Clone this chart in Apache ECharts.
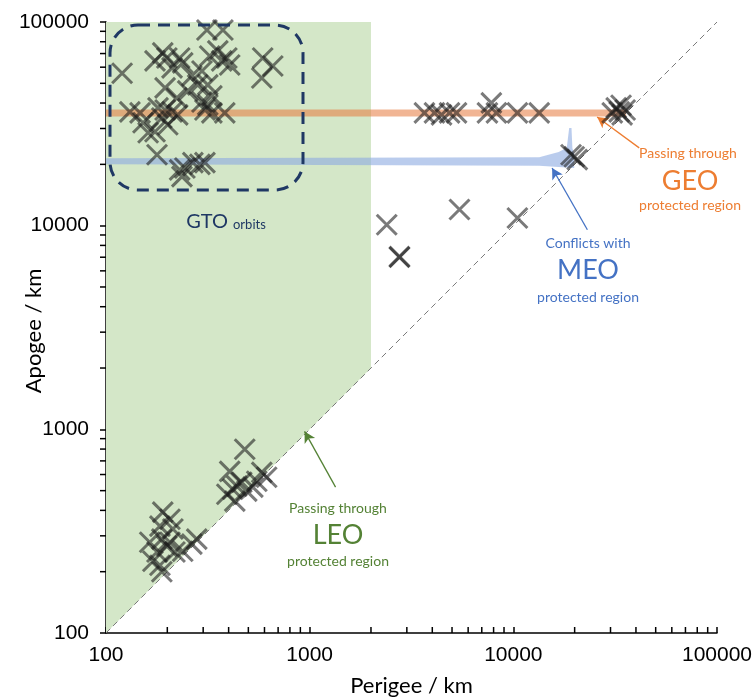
<!DOCTYPE html>
<html>
<head>
<meta charset="utf-8">
<script src="https://cdn.jsdelivr.net/npm/echarts@6/dist/echarts.min.js"></script>
<style>
  html, body { margin: 0; padding: 0; background: #fff; }
  #chart { width: 754px; height: 697px; }
</style>
</head>
<body>
<div id="chart"></div>
<script>
// [perigee km, apogee km]
const gtoOrbits = [
  [120, 56000], [174, 64400], [190, 70500], [199, 66600], [230, 66600], [238, 63000],
  [211, 59500], [264, 54400], [195, 47500], [252, 45900], [282, 49100], [223, 42400],
  [313, 91400], [375, 91400], [323, 68100], [354, 72100], [370, 64400], [392, 66600],
  [405, 61500], [588, 66600], [659, 60800], [582, 53100], [296, 57500], [316, 49100],
  [331, 43400], [296, 40500], [316, 39200], [306, 37000], [331, 35800], [383, 35800],
  [131, 36200], [147, 35800], [152, 32000], [161, 28600], [174, 28900], [180, 37900],
  [195, 37000], [188, 33800], [211, 36200], [225, 35000], [201, 31300], [178, 22300],
  [230, 18800], [244, 19200], [267, 20400], [289, 20000], [306, 20400], [236, 17400]
]
const geoOrbits = [
  [3660, 35800], [4100, 35800], [4440, 35000], [4860, 35800], [5260, 35800],
  [7460, 35800], [7800, 40100], [8260, 35800], [10470, 35800], [13400, 35800],
  [30600, 35800], [32000, 37900], [33100, 36200], [34200, 35000], [35400, 37000], [33800, 39000]
]
const meoOrbits = [[19900, 21800], [19200, 22300], [20600, 21100]]
const otherOrbits = [[2390, 10100], [2760, 7050], [2760, 7000], [5440, 12000], [10470, 10900]]
const leoOrbits = [
  [480, 798], [405, 622], [392, 480], [419, 508], [439, 526], [464, 550], [491, 497],
  [526, 520], [582, 615], [615, 582], [550, 556], [429, 444], [190, 392], [206, 362],
  [184, 335], [213, 324], [164, 279], [188, 289], [199, 267], [178, 250], [218, 250],
  [238, 252], [279, 289], [264, 273], [170, 225], [184, 215], [188, 200], [206, 279]
]

// shaded LEO-crossing region and protected bands
const leoRegion = [[100, 100], [2000, 2000], [2000, 100000], [100, 100000]]
const geoBand = [[100, 35786], [35786, 35786]]
const meoBand = [
  [100, 21400], [13400, 21700], [16700, 23000], [18300, 24100], [18800, 30200], [19300, 30200],
  [19500, 24000], [19900, 22500], [19900, 19200], [13400, 19700], [100, 20000]
]
const diagonal = [[100, 100], [100000, 100000]]
const minorTicks = [200, 300, 400, 500, 600, 700, 800, 900, 2000, 3000, 4000, 5000, 6000, 7000,
  8000, 9000, 20000, 30000, 40000, 50000, 60000, 70000, 80000, 90000]

const chart = echarts.init(document.getElementById('chart'))
const txtFont = 'Lato, "Open Sans", sans-serif'
const numFont = '"Liberation Sans", Arial, sans-serif'
const allOrbits = [].concat(gtoOrbits, geoOrbits, meoOrbits, otherOrbits, leoOrbits)

const polygonSeries = (pts, fill, z) => ({
  type: 'custom', coordinateSystem: 'cartesian2d', data: [[100, 100]], silent: true, z,
  renderItem: (params, api) => ({
    type: 'polygon',
    shape: { points: pts.map(p => api.coord(p)) },
    style: { fill }
  })
})

const arrow = (from, to, color) => ({
  type: 'scatter', data: [], silent: true, z: 6,
  markLine: {
    silent: true, symbol: ['none', 'arrow'], symbolSize: [9, 11],
    label: { show: false },
    lineStyle: { color, width: 1.3, type: 'solid' },
    data: [[{ coord: from }, { coord: to }]]
  }
})

const note = (x, y, text, color, size) => ({
  type: 'text', z: 10, x, y,
  style: { text, fill: color, font: size + 'px ' + txtFont, align: 'center', verticalAlign: 'middle' }
})

let option = {
  animation: false,
  grid: { left: 106, right: 37, top: 22, bottom: 64, outerBoundsMode: 'none' },
  xAxis: {
    type: 'log', min: 100, max: 100000,
    name: 'Perigee / km', nameLocation: 'middle', nameGap: 42,
    nameTextStyle: { fontFamily: txtFont, fontSize: 22, color: '#000' },
    axisLine: { lineStyle: { color: '#000', width: 1.5 } },
    axisTick: { inside: true, length: 6, lineStyle: { color: '#000', width: 1.5 } },
    axisLabel: { formatter: v => String(v), fontFamily: numFont, fontSize: 21, color: '#000', margin: 12 },
    splitLine: { show: false }
  },
  yAxis: {
    type: 'log', min: 100, max: 100000,
    axisLine: { lineStyle: { color: '#000', width: 1.5 } },
    axisTick: { length: 6, lineStyle: { color: '#000', width: 1.5 } },
    axisLabel: { formatter: v => String(v), fontFamily: numFont, fontSize: 21, color: '#000', margin: 17 },
    splitLine: { show: false }
  },
  series: [
    polygonSeries(leoRegion, '#d4e7c8', 1),
    polygonSeries(meoBand, 'rgba(140,170,225,0.6)', 2),
    {
      type: 'line', data: geoBand, symbol: 'none', silent: true, z: 2,
      lineStyle: { color: 'rgba(230,120,60,0.55)', width: 7 }
    },
    {
      type: 'line', data: diagonal, symbol: 'none', silent: true, z: 3,
      lineStyle: { color: '#7a7a7a', width: 1, type: [6, 4] }
    },
    {
      type: 'custom', coordinateSystem: 'cartesian2d', data: minorTicks.map(v => [v, 100]),
      silent: true, clip: false, z: 20,
      renderItem: (params, api) => {
        const p = api.coord([api.value(0), api.value(1)])
        return { type: 'line', shape: { x1: p[0], y1: p[1], x2: p[0], y2: p[1] - 6 }, style: { stroke: '#000', lineWidth: 1.5 } }
      }
    },
    {
      type: 'custom', coordinateSystem: 'cartesian2d', data: minorTicks.map(v => [100, v]),
      silent: true, clip: false, z: 20,
      renderItem: (params, api) => {
        const p = api.coord([api.value(0), api.value(1)])
        return { type: 'line', shape: { x1: p[0], y1: p[1], x2: p[0] - 6, y2: p[1] }, style: { stroke: '#000', lineWidth: 1.5 } }
      }
    },
    {
      type: 'custom', coordinateSystem: 'cartesian2d', data: allOrbits, z: 5, clip: false,
      renderItem: (params, api) => {
        const c = api.coord([api.value(0), api.value(1)])
        const h = 10
        return {
          type: 'path',
          shape: { pathData: `M${c[0] - h},${c[1] - h}L${c[0] + h},${c[1] + h}M${c[0] + h},${c[1] - h}L${c[0] - h},${c[1] + h}` },
          style: { fill: null, stroke: 'rgba(25,25,25,0.58)', lineWidth: 3 }
        }
      }
    },
    arrow([41500, 24100], [25800, 34200], '#ED7D31'),
    arrow([23100, 9550], [15500, 19200], '#4472C4'),
    arrow([1340, 520], [944, 977], '#548235')
  ],
  graphic: [
    {
      type: 'text', z: 10, x: 34, y: 331, rotation: Math.PI / 2,
      style: { text: 'Apogee / km', fill: '#000', font: '22px ' + txtFont, align: 'center', verticalAlign: 'middle' }
    },
    {
      type: 'rect', z: 10, shape: { x: 110, y: 25, width: 193, height: 165, r: 28 },
      style: { fill: null, stroke: '#1F3864', lineWidth: 3, lineDash: [12, 8] }
    },
    { type: 'text', z: 10, x: 228, y: 222, style: { text: 'GTO', fill: '#1F3864', font: '20px ' + txtFont, align: 'right', verticalAlign: 'middle' } },
    { type: 'text', z: 10, x: 233, y: 225, style: { text: 'orbits', fill: '#1F3864', font: '13px ' + txtFont, align: 'left', verticalAlign: 'middle' } },

    note(688, 153, 'Passing through', '#ED7D31', 14),
    note(690, 181, 'GEO', '#ED7D31', 27),
    note(690, 205, 'protected region', '#ED7D31', 14),

    note(588, 243, 'Conflicts with', '#4472C4', 14),
    note(588, 270, 'MEO', '#4472C4', 27),
    note(588, 297, 'protected region', '#4472C4', 14),

    note(338, 508, 'Passing through', '#548235', 14),
    note(338, 535, 'LEO', '#548235', 27),
    note(338, 561, 'protected region', '#548235', 14)
  ]
}

chart.setOption(option)
</script>
</body>
</html>
